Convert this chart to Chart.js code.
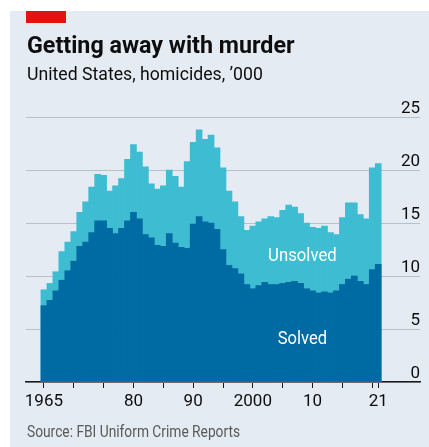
<!DOCTYPE html>
<html>
<head>
<meta charset="utf-8">
<script src="https://cdn.jsdelivr.net/npm/chart.js@4.4.0/dist/chart.umd.min.js"></script>
<style>
  html, body { margin: 0; padding: 0; background: #fff; }
  #wrap { position: relative; width: 429px; height: 447px; overflow: hidden; }
  #panel { position: absolute; left: 10px; top: 11px; right: 0; bottom: 0; background: #e4ebf2; }
  canvas { position: absolute; left: 0; top: 0; }
</style>
</head>
<body>
<div id="wrap">
  <div id="panel"></div>
  <canvas id="chart" width="429" height="447"></canvas>
</div>
<script>
// Data, '000 homicides per year
const years = [1965, 1966, 1967, 1968, 1969, 1970, 1971, 1972, 1973, 1974,
               1975, 1976, 1977, 1978, 1979, 1980, 1981, 1982, 1983, 1984,
               1985, 1986, 1987, 1988, 1989, 1990, 1991, 1992, 1993, 1994,
               1995, 1996, 1997, 1998, 1999, 2000, 2001, 2002, 2003, 2004,
               2005, 2006, 2007, 2008, 2009, 2010, 2011, 2012, 2013, 2014,
               2015, 2016, 2017, 2018, 2019, 2020, 2021];
const solved = [7.2, 7.7, 8.6, 9.6, 10.5, 11.4, 12.8, 13.2, 14.1, 15.2,
                15.2, 14.5, 14.0, 14.5, 15.2, 16.0, 15.4, 13.9, 13.6, 12.9,
                12.8, 14.0, 13.1, 12.7, 12.6, 14.9, 15.6, 15.1, 15.0, 14.4,
                12.5, 11.0, 10.7, 10.2, 9.2, 8.8, 9.1, 9.4, 9.2, 9.2,
                9.3, 9.4, 9.5, 9.3, 8.8, 8.6, 8.4, 8.5, 8.4, 8.6,
                9.2, 9.7, 10.0, 9.5, 9.2, 10.6, 11.1];
const total = [8.7, 9.3, 10.4, 12.3, 13.2, 14.2, 16.0, 17.0, 18.4, 19.6,
               19.5, 18.0, 18.5, 19.2, 21.0, 22.4, 21.7, 20.3, 18.7, 18.2,
               18.5, 20.0, 19.4, 18.4, 20.8, 22.6, 23.8, 22.9, 23.3, 22.1,
               20.2, 18.0, 17.0, 15.6, 14.3, 14.7, 15.1, 15.4, 15.6, 15.5,
               16.2, 16.7, 16.5, 15.9, 15.0, 14.6, 14.5, 14.7, 14.1, 13.9,
               15.5, 16.9, 16.9, 15.8, 15.4, 20.2, 20.6];

const tickYears = [1965, 1970, 1975, 1980, 1985, 1990, 1995, 2000, 2005, 2010, 2015, 2020, 2021];
const tickLabels = ['1965', '', '', '80', '', '90', '', '2000', '', '10', '', '', '21'];

const FONT = 'Roboto, "Noto Sans", sans-serif';
const DARK = '#006ba2';
const LIGHT = '#3ebcd2';

// squeeze text horizontally, the original face is a condensed one
function narrowText(ctx, text, x, y, sx) {
    ctx.save();
    ctx.translate(x, y);
    ctx.scale(sx, 1);
    ctx.fillText(text, 0, 0);
    ctx.restore();
}

// Header, source and in-chart labels
const textPlugin = {
    id: 'texts',
    afterDatasetsDraw(chart) {
        const ctx = chart.ctx;
        const x = chart.scales.x.getPixelForValue(2008.3);
        ctx.save();
        ctx.fillStyle = '#ffffff';
        ctx.font = '19px ' + FONT;
        ctx.textAlign = 'center';
        ctx.textBaseline = 'middle';
        narrowText(ctx, 'Unsolved', x, chart.scales.y.getPixelForValue(11.9), 0.88);
        narrowText(ctx, 'Solved', x, chart.scales.y.getPixelForValue(4.0), 0.87);
        ctx.restore();
    },
    afterDraw(chart) {
        const ctx = chart.ctx;
        ctx.save();
        ctx.fillStyle = '#e3120b';
        ctx.fillRect(26, 11, 40, 12);
        ctx.textAlign = 'left';
        ctx.textBaseline = 'alphabetic';
        ctx.fillStyle = '#0d0d0d';
        ctx.font = 'bold 24px ' + FONT;
        narrowText(ctx, 'Getting away with murder', 27, 53, 0.97);
        ctx.font = '19px ' + FONT;
        narrowText(ctx, 'United States, homicides, \u2019000', 27, 80, 0.93);
        ctx.fillStyle = '#595959';
        ctx.font = '16px ' + FONT;
        narrowText(ctx, 'Source: FBI Uniform Crime Reports', 27, 437, 0.86);
        ctx.restore();
    }
};

const ctx = document.getElementById('chart').getContext('2d');
new Chart(ctx, {
    type: 'bar',
    data: {
        datasets: [{
            label: 'Solved',
            data: years.map((yr, i) => ({ x: yr, y: solved[i] })),
            backgroundColor: DARK,
            order: 0
        }, {
            label: 'Total',
            data: years.map((yr, i) => ({ x: yr, y: total[i] })),
            backgroundColor: LIGHT,
            order: 1
        }]
    },
    options: {
        responsive: false,
        animation: false,
        events: [],
        datasets: {
            bar: { grouped: false, barPercentage: 1, categoryPercentage: 1, borderWidth: 0 }
        },
        layout: { padding: { left: 26, right: 9, top: 117, bottom: 35 } },
        plugins: {
            legend: { display: false },
            tooltip: { enabled: false }
        },
        scales: {
            x: {
                type: 'linear',
                min: 1962,
                max: 2028,
                offset: false,
                z: 1,
                grid: { offset: false, drawOnChartArea: false, drawTicks: true, tickLength: 6, color: '#1a1a1a', lineWidth: 1 },
                border: { display: true, color: '#1a1a1a', width: 1.5 },
                afterBuildTicks: s => { s.ticks = tickYears.map(v => ({ value: v })); },
                afterFit: s => { s.height = 30; },
                ticks: {
                    autoSkip: false,
                    maxRotation: 0,
                    padding: 4,
                    color: '#0d0d0d',
                    font: { family: FONT, size: 17 },
                    callback: v => tickLabels[tickYears.indexOf(v)]
                }
            },
            y: {
                position: 'right',
                min: 0,
                max: 25,
                grid: { drawTicks: false, color: '#b7c1c9', lineWidth: 1 },
                border: { display: false },
                afterFit: s => { s.width = 0; },
                ticks: {
                    stepSize: 5,
                    mirror: true,
                    padding: 0,
                    labelOffset: -8,
                    color: '#0d0d0d',
                    font: { family: FONT, size: 17 }
                }
            }
        }
    },
    plugins: [textPlugin]
});
</script>
</body>
</html>
